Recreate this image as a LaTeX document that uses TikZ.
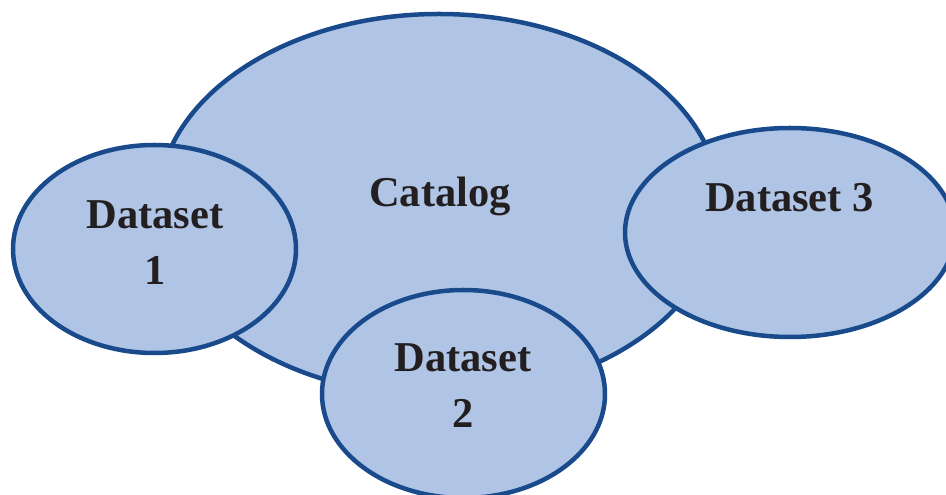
\documentclass[tikz,border=0pt]{standalone}
\usepackage{fontspec}
\setmainfont{Liberation Serif}
\usetikzlibrary{shapes.geometric}

\definecolor{setfill}{RGB}{176,197,230}
\definecolor{setline}{RGB}{24,74,140}
\definecolor{ink}{RGB}{35,31,32}

\tikzset{
  blob/.style={ellipse, draw=setline, fill=setfill, line width=4.5pt,
               inner sep=0pt, outer sep=0pt},
  label/.style={anchor=base, text=ink, inner sep=0pt,
                font=\fontsize{42.5}{56}\selectfont\bfseries}
}

\begin{document}
\begin{tikzpicture}[x=1pt,y=1pt]
  \useasboundingbox (0,0) rectangle (946,495);
  \clip (0,0) rectangle (946,495);

  % the catalog, with the three datasets laid over its rim
  \node[blob, minimum width=562pt, minimum height=382pt] (catalog) at (439,290) {};
  \node[blob, minimum width=283pt, minimum height=208pt] (ds1) at (154.5,246) {};
  \node[blob, minimum width=283pt, minimum height=208pt] (ds2) at (463.5,101) {};
  \node[blob, minimum width=330pt, minimum height=209pt] (ds3) at (790,262.5) {};

  % captions
  \node[label] (catalogtext) at (440,288) {Catalog};
  \node[label] (ds1a) at (155,266) {Dataset};
  \node[label] (ds1b) at (155,210) {1};
  \node[label] (ds2a) at (463,123) {Dataset};
  \node[label] (ds2b) at (463,67) {2};
  \node[label] (ds3text) at (789.5,283) {Dataset 3};
\end{tikzpicture}
\end{document}
